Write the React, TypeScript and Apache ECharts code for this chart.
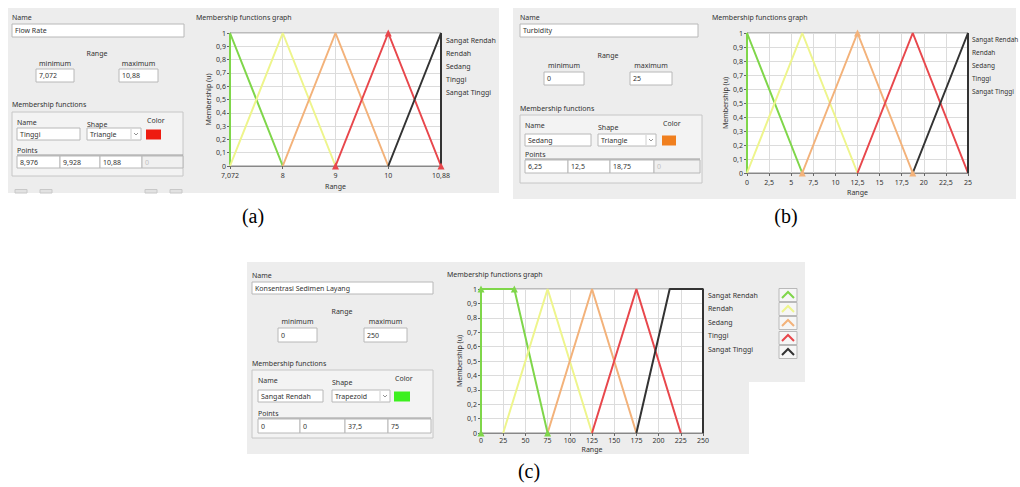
import React, { useEffect, useRef } from "react";
import * as echarts from "echarts";

// ---------- data ----------
const mfNames = ["Sangat Rendah", "Rendah", "Sedang", "Tinggi", "Sangat Tinggi"];
const mfColors = ["#7fd64a", "#eef58c", "#f3b27a", "#e8474c", "#333333"];
const triangleMu = [0, 1, 0];
const trapezoidMu = [0, 1, 1, 0];

// (a) Flow Rate
const flowRatePoints = [
  [7.072, 7.072, 8.024],
  [7.072, 8.024, 8.976],
  [8.024, 8.976, 9.928],
  [8.976, 9.928, 10.88],
  [9.928, 10.88, 10.88],
];
const flowRateTicks = [7.072, 8.024, 8.976, 9.928, 10.88];
const flowRateTickLabels = ["7,072", "8", "9", "10", "10,88"];

// (b) Turbidity
const turbidityPoints = [
  [0, 0, 6.25],
  [0, 6.25, 12.5],
  [6.25, 12.5, 18.75],
  [12.5, 18.75, 25],
  [18.75, 25, 25],
];

// (c) Konsentrasi Sedimen Layang
const sedimentPoints = [
  [0, 0, 37.5, 75],
  [25, 75, 125],
  [75, 125, 175],
  [125, 175, 225],
  [175, 212.5, 250, 250],
];

// UI texts
const panelNames = ["Flow Rate", "Turbidity", "Konsentrasi Sedimen Layang"];
const rangeMin = ["7,072", "0", "0"];
const rangeMax = ["10,88", "25", "250"];
const selectedIndex = [3, 2, 0];
const selectedShape = ["Triangle", "Triangle", "Trapezoid"];
const selectedColor = ["#ee1c10", "#f07f1e", "#3cf01e"];
const selectedPointText = [
  ["8,976", "9,928", "10,88", "0"],
  ["6,25", "12,5", "18,75", "0"],
  ["0", "0", "37,5", "75"],
];
const captions = ["(a)", "(b)", "(c)"];

// ---------- helpers ----------
const FONT = '"Noto Sans", "Liberation Sans", sans-serif';
const comma = (v: number) => String(+Number(v).toFixed(3)).replace(".", ",");

function txt(x: number, y: number, text: string, opt: any = {}) {
  return {
    type: "text",
    x,
    y,
    z: 5,
    silent: true,
    style: {
      text,
      fill: opt.fill || "#333",
      font: `${opt.size || 7}px ${opt.family || FONT}`,
      textAlign: opt.align || "left",
      textVerticalAlign: "middle",
    },
  };
}
function box(x: number, y: number, w: number, h: number, fill = "#ffffff", stroke = "#b8b8b8", z = 2) {
  return {
    type: "rect",
    z,
    silent: true,
    shape: { x, y, width: w, height: h },
    style: { fill, stroke, lineWidth: 1 },
  };
}

function controls(p: number, L: any) {
  const els: any[] = [];
  els.push(txt(L.nx, L.ny, "Name"));
  els.push(box(L.nx, L.ny + 7, L.nw, L.nh));
  els.push(txt(L.nx + 3, L.ny + 7 + L.nh / 2, panelNames[p]));
  els.push(txt(L.rx, L.ry, "Range", { align: "center" }));
  els.push(txt(L.minx + L.minw / 2, L.ry + 10.5, "minimum", { align: "center" }));
  els.push(txt(L.maxx + L.maxw / 2, L.ry + 10.5, "maximum", { align: "center" }));
  els.push(box(L.minx, L.by, L.minw, L.bh));
  els.push(txt(L.minx + 3, L.by + L.bh / 2, rangeMin[p]));
  els.push(box(L.maxx, L.by, L.maxw, L.bh));
  els.push(txt(L.maxx + 3, L.by + L.bh / 2, rangeMax[p]));
  els.push(txt(L.nx, L.mfy, "Membership functions"));
  els.push(box(L.nx, L.gy, L.gw, L.gh, "#f3f3f3", "#c6c6c6", 1));
  // name / shape / color
  els.push(txt(L.in, L.gy + 10, "Name"));
  els.push(box(L.in, L.fy, L.fnw, 12));
  els.push(txt(L.in + 3, L.fy + 6, mfNames[selectedIndex[p]]));
  els.push(txt(L.sx, L.gy + 12, "Shape"));
  els.push(box(L.sx, L.fy, L.sw, 12));
  els.push(txt(L.sx + 3, L.fy + 6, selectedShape[p]));
  els.push({
    type: "line", z: 3, silent: true,
    shape: { x1: L.sx + L.sw - 10, y1: L.fy + 1, x2: L.sx + L.sw - 10, y2: L.fy + 11 },
    style: { stroke: "#d0d0d0", lineWidth: 1 },
  });
  els.push({
    type: "polyline", z: 3, silent: true,
    shape: { points: [[L.sx + L.sw - 7, L.fy + 5], [L.sx + L.sw - 5, L.fy + 7], [L.sx + L.sw - 3, L.fy + 5]] },
    style: { stroke: "#777", lineWidth: 0.8, fill: "none" },
  });
  els.push(txt(L.cx + 1, L.gy + 8, "Color"));
  els.push({
    type: "rect", z: 3, silent: true,
    shape: { x: L.cx, y: L.fy + 1.5, width: L.cw, height: 10 },
    style: { fill: selectedColor[p] },
  });
  els.push(txt(L.in, L.py - 6, "Points"));
  els.push({
    type: "line", z: 3, silent: true,
    shape: { x1: L.in, y1: L.py - 1, x2: L.pxs[4], y2: L.py - 1 },
    style: { stroke: "#9a9a9a", lineWidth: 1 },
  });
  for (let k = 0; k < 4; k++) {
    const disabled = selectedShape[p] === "Triangle" && k === 3;
    els.push(box(L.pxs[k], L.py, L.pxs[k + 1] - L.pxs[k], L.ph, disabled ? "#f0f0f0" : "#ffffff"));
    els.push(txt(L.pxs[k] + 3, L.py + L.ph / 2, selectedPointText[p][k], { fill: disabled ? "#c0c0c0" : "#333" }));
  }
  return els;
}

function seriesFor(p: number, pts: number[][]) {
  return pts.map((xs, i) => {
    const mu = xs.length === 4 ? trapezoidMu : triangleMu;
    const sel = selectedIndex[p] === i;
    return {
      type: "line",
      name: mfNames[i],
      xAxisIndex: p,
      yAxisIndex: p,
      data: xs.map((x, k) => [x, mu[k]]),
      color: mfColors[i],
      lineStyle: { width: 2, color: mfColors[i] },
      symbol: sel ? "triangle" : "none",
      symbolSize: 7,
      showSymbol: sel,
      itemStyle: { color: mfColors[i] },
      clip: false,
      silent: true,
    };
  });
}

function yAxis(p: number) {
  return {
    type: "value",
    gridIndex: p,
    min: 0,
    max: 1,
    interval: 0.1,
    name: "Membership (u)",
    nameLocation: "middle",
    nameGap: 18,
    nameTextStyle: { fontSize: 7, color: "#333", fontFamily: FONT },
    axisLine: { show: true, lineStyle: { color: "#888", width: 1 } },
    axisTick: { show: true, length: 3, lineStyle: { color: "#666" } },
    axisLabel: { fontSize: 7, color: "#333", fontFamily: FONT, margin: 4, formatter: (v: number) => comma(v) },
    splitLine: { show: true, lineStyle: { color: "#dcdcdc", width: 1 } },
  };
}

function xAxisBase(p: number, margin: number, nameGap: number) {
  return {
    type: "value",
    gridIndex: p,
    name: "Range",
    nameLocation: "middle",
    nameGap,
    nameTextStyle: { fontSize: 7, color: "#333", fontFamily: FONT, verticalAlign: "top" },
    axisLine: { show: true, onZero: false, lineStyle: { color: "#888", width: 1 } },
    axisTick: { show: true, length: 3, lineStyle: { color: "#666" } },
    axisLabel: { fontSize: 7, color: "#333", fontFamily: FONT, margin, showMinLabel: true, showMaxLabel: true },
    splitLine: { show: true, lineStyle: { color: "#dcdcdc", width: 1 } },
  };
}

function legendAt(left: number, top: number, gap: number, size = 7) {
  return {
    show: true,
    orient: "vertical",
    left,
    top,
    padding: 0,
    icon: "none",
    itemWidth: 0,
    itemHeight: 9,
    itemGap: gap,
    selectedMode: false,
    data: mfNames,
    textStyle: { fontSize: size, color: "#333", fontFamily: FONT },
  };
}

export default function App() {
  const ref = useRef<HTMLDivElement>(null);

  useEffect(() => {
    if (!ref.current) return;
    const chart = echarts.init(ref.current, undefined, { renderer: "svg" });

    const graphic: any[] = [];
    // panel backgrounds
    graphic.push(box(8, 8, 491, 185, "#ededed", "none", -10));
    graphic.push(box(513, 8, 503, 191, "#ededed", "none", -10));
    graphic.push(box(247, 262, 502, 192, "#ededed", "none", -10));
    graphic.push(box(749, 262, 56, 120, "#ededed", "none", -10));

    // panel (a) controls
    graphic.push(
      ...controls(0, {
        nx: 12, ny: 17, nw: 172, nh: 13,
        rx: 97, ry: 53, minx: 36, minw: 38, maxx: 119, maxw: 39, by: 69, bh: 13,
        mfy: 104, gy: 112, gw: 171, gh: 64,
        in: 17, fy: 128, fnw: 63, sx: 87, sw: 54, cx: 146, cw: 15,
        py: 156, ph: 12, pxs: [17, 60, 100, 142, 183],
      })
    );
    [15, 40, 145, 170].forEach((x) => graphic.push(box(x, 189.5, 12, 3.5, "#e2e2e2", "#c8c8c8", 1)));
    graphic.push(txt(196, 17, "Membership functions graph"));

    // panel (b) controls
    graphic.push(
      ...controls(1, {
        nx: 520, ny: 17, nw: 178, nh: 13,
        rx: 608, ry: 55, minx: 544, minw: 40, maxx: 630, maxw: 42, by: 72, bh: 13,
        mfy: 108, gy: 115, gw: 182, gh: 68,
        in: 525, fy: 134, fnw: 66, sx: 598, sw: 58, cx: 662, cw: 14,
        py: 160, ph: 13, pxs: [525, 568, 610, 654, 700],
      })
    );
    graphic.push(txt(712, 17, "Membership functions graph"));

    // panel (c) controls
    graphic.push(
      ...controls(2, {
        nx: 252, ny: 275, nw: 181, nh: 12,
        rx: 342, ry: 311, minx: 278, minw: 39, maxx: 364, maxw: 43, by: 328, bh: 14,
        mfy: 363, gy: 370, gw: 181, gh: 68,
        in: 258, fy: 390, fnw: 65, sx: 332, sw: 58, cx: 394, cw: 16,
        py: 419, ph: 14, pxs: [258, 300, 345, 388, 431],
      })
    );
    graphic.push(txt(447, 274, "Membership functions graph"));

    // legend icons of panel (c)
    const iconY = [295, 309, 323, 338, 352];
    mfNames.forEach((_, i) => {
      const cy = iconY[i];
      graphic.push(box(779, cy - 6.5, 18, 13, "#f6f6f6", "#b9b9b9", 2));
      graphic.push({
        type: "polyline", z: 3, silent: true,
        shape: { points: [[782, cy + 3], [788, cy - 3], [794, cy + 3]] },
        style: { stroke: mfColors[i], lineWidth: 2, fill: "none" },
      });
    });

    // captions
    graphic.push(txt(253, 216, captions[0], { size: 20, family: '"Liberation Serif", serif', align: "center", fill: "#000" }));
    graphic.push(txt(786, 216, captions[1], { size: 20, family: '"Liberation Serif", serif', align: "center", fill: "#000" }));
    graphic.push(txt(529, 471, captions[2], { size: 20, family: '"Liberation Serif", serif', align: "center", fill: "#000" }));

    const xA: any = xAxisBase(0, 6, 17);
    xA.min = flowRateTicks[0];
    xA.max = flowRateTicks[flowRateTicks.length - 1];
    xA.axisTick = { ...xA.axisTick, customValues: flowRateTicks };
    xA.axisLabel = {
      ...xA.axisLabel,
      customValues: flowRateTicks,
      formatter: (v: number) => {
        const idx = flowRateTicks.findIndex((t) => Math.abs(t - v) < 1e-6);
        return idx >= 0 ? flowRateTickLabels[idx] : "";
      },
    };
    const xB: any = xAxisBase(1, 6, 16);
    xB.min = 0;
    xB.max = 25;
    xB.interval = 2.5;
    xB.axisLabel = { ...xB.axisLabel, formatter: (v: number) => comma(v) };
    const xC: any = xAxisBase(2, 4, 13);
    xC.min = 0;
    xC.max = 250;
    xC.interval = 25;
    xC.axisLabel = { ...xC.axisLabel, formatter: (v: number) => comma(v) };

    const gridBase = { show: true, backgroundColor: "#ffffff", borderColor: "#8a8a8a", borderWidth: 1, containLabel: false };

    chart.setOption({
      animation: false,
      backgroundColor: "#ffffff",
      grid: [
        { ...gridBase, left: 230, top: 33, width: 211, height: 133 },
        { ...gridBase, left: 747, top: 33, width: 221, height: 140 },
        { ...gridBase, left: 481, top: 289, width: 222, height: 144 },
      ],
      xAxis: [xA, xB, xC],
      yAxis: [yAxis(0), yAxis(1), yAxis(2)],
      legend: [legendAt(441, 35.5, 5), legendAt(967, 34.5, 5, 6.5), legendAt(703, 290.5, 5.5)],
      series: [
        ...seriesFor(0, flowRatePoints),
        ...seriesFor(1, turbidityPoints),
        ...seriesFor(2, sedimentPoints),
      ],
      graphic,
    });

    return () => chart.dispose();
  }, []);

  return (
    <div
      ref={ref}
      style={{ position: "absolute", left: 0, top: 0, width: 1020, height: 487, background: "#fff" }}
    />
  );
}
